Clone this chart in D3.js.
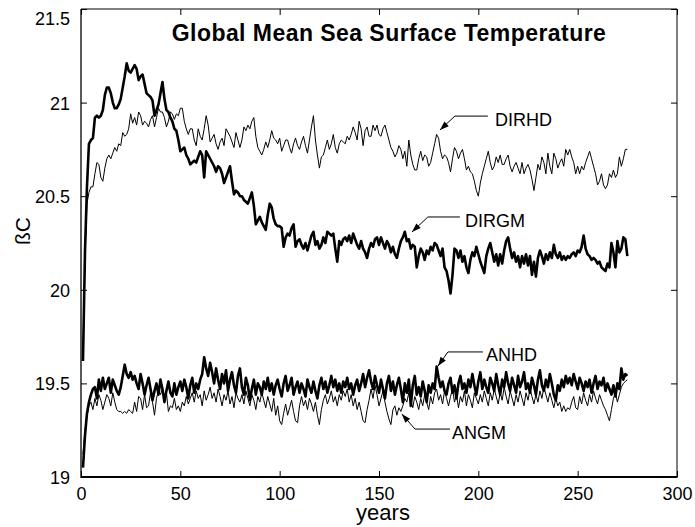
<!DOCTYPE html>
<html>
<head>
<meta charset="utf-8">
<script src="https://cdn.jsdelivr.net/npm/d3@7"></script>
<style>
  body { margin: 0; background: #fff; }
  svg text { font-family: "Liberation Sans", Arial, sans-serif; fill: #000; }
</style>
</head>
<body>
<div id="chart"></div>
<script>
// yearly values, year 1 .. 275
const dirgm = [
  19.62, 20.20, 20.55, 20.78, 20.80, 20.81, 20.92, 20.93, 20.92, 20.93,
  20.96, 21.04, 21.08, 21.08, 21.05, 21.00, 20.97, 20.97, 20.99, 21.02,
  21.08, 21.14, 21.21, 21.17, 21.16, 21.18, 21.20, 21.18, 21.12, 21.14,
  21.15, 21.10, 21.05, 21.04, 21.03, 21.01, 20.93, 20.96, 20.99, 21.05,
  21.11, 21.02, 20.96, 20.95, 20.92, 20.90, 20.86, 20.85, 20.80, 20.74,
  20.75, 20.76, 20.72, 20.70, 20.67, 20.68, 20.69, 20.68, 20.71, 20.74,
  20.72, 20.60, 20.74, 20.72, 20.70, 20.68, 20.66, 20.63, 20.66, 20.65,
  20.62, 20.57, 20.60, 20.63, 20.66, 20.58, 20.51, 20.53, 20.52, 20.50,
  20.50, 20.48, 20.47, 20.46, 20.49, 20.52, 20.45, 20.35, 20.37, 20.39,
  20.36, 20.34, 20.32, 20.40, 20.46, 20.44, 20.38, 20.35, 20.34, 20.34,
  20.33, 20.23, 20.28, 20.30, 20.29, 20.33, 20.35, 20.23, 20.26, 20.27,
  20.24, 20.22, 20.25, 20.21, 20.25, 20.29, 20.31, 20.24, 20.26, 20.22,
  20.24, 20.28, 20.25, 20.31, 20.30, 20.29, 20.30, 20.22, 20.15, 20.26,
  20.24, 20.27, 20.28, 20.26, 20.29, 20.25, 20.30, 20.27, 20.24, 20.22,
  20.26, 20.22, 20.20, 20.17, 20.22, 20.25, 20.23, 20.27, 20.28, 20.24,
  20.28, 20.25, 20.22, 20.26, 20.24, 20.20, 20.23, 20.19, 20.17, 20.22,
  20.26, 20.28, 20.31, 20.26, 20.27, 20.22, 20.24, 20.23, 20.12, 20.18,
  20.22, 20.20, 20.16, 20.21, 20.19, 20.23, 20.21, 20.25, 20.24, 20.21,
  20.18, 20.22, 20.12, 20.10, 20.05, 19.98, 20.08, 20.22, 20.21, 20.17,
  20.21, 20.15, 20.18, 20.12, 20.09, 20.16, 20.20, 20.18, 20.23, 20.19,
  20.15, 20.12, 20.09, 20.18, 20.22, 20.25, 20.20, 20.15, 20.19, 20.13,
  20.19, 20.14, 20.21, 20.26, 20.28, 20.22, 20.17, 20.20, 20.15, 20.18,
  20.12, 20.18, 20.14, 20.19, 20.13, 20.18, 20.08, 20.15, 20.07, 20.17,
  20.21, 20.18, 20.14, 20.19, 20.16, 20.20, 20.17, 20.24, 20.19, 20.17,
  20.20, 20.16, 20.18, 20.16, 20.18, 20.17, 20.19, 20.20, 20.18, 20.21,
  20.20, 20.23, 20.29, 20.22, 20.19, 20.18, 20.16, 20.17, 20.16, 20.14,
  20.15, 20.12, 20.11, 20.10, 20.14, 20.12, 20.25, 20.20, 20.12, 20.26,
  20.20, 20.22, 20.28, 20.27, 20.18
];

const dirhd = [
  19.62, 20.18, 20.46, 20.52, 20.55, 20.55, 20.62, 20.68, 20.67, 20.60,
  20.58, 20.65, 20.70, 20.72, 20.70, 20.73, 20.76, 20.74, 20.78, 20.77,
  20.84, 20.82, 20.83, 20.86, 20.94, 20.89, 20.92, 20.88, 20.95, 20.93,
  20.88, 20.90, 20.89, 20.87, 20.91, 20.93, 20.87, 20.92, 20.97, 20.95,
  20.95, 20.92, 20.87, 20.90, 20.95, 20.94, 20.91, 20.94, 20.93, 20.97,
  20.97, 20.90, 20.86, 20.83, 20.86, 20.86, 20.80, 20.77, 20.86, 20.82,
  20.80, 20.86, 20.93, 20.88, 20.79, 20.81, 20.83, 20.78, 20.75, 20.79,
  20.81, 20.77, 20.86, 20.84, 20.82, 20.79, 20.76, 20.84, 20.80, 20.76,
  20.80, 20.87, 20.85, 20.88, 20.86, 20.90, 20.92, 20.82, 20.76, 20.74,
  20.72, 20.75, 20.79, 20.76, 20.80, 20.85, 20.81, 20.80, 20.78, 20.81,
  20.74, 20.77, 20.80, 20.80, 20.76, 20.73, 20.78, 20.81, 20.77, 20.75,
  20.79, 20.82, 20.77, 20.73, 20.80, 20.87, 20.93, 20.80, 20.72, 20.65,
  20.71, 20.72, 20.76, 20.80, 20.75, 20.78, 20.83, 20.76, 20.73, 20.78,
  20.80, 20.79, 20.78, 20.82, 20.80, 20.83, 20.87, 20.84, 20.80, 20.90,
  20.86, 20.77, 20.85, 20.87, 20.82, 20.82, 20.88, 20.85, 20.88, 20.83,
  20.82, 20.86, 20.88, 20.84, 20.80, 20.76, 20.74, 20.71, 20.73, 20.77,
  20.75, 20.70, 20.74, 20.66, 20.80, 20.72, 20.67, 20.64, 20.64, 20.70,
  20.74, 20.69, 20.72, 20.71, 20.66, 20.68, 20.73, 20.78, 20.83, 20.81,
  20.74, 20.70, 20.72, 20.71, 20.68, 20.63, 20.70, 20.76, 20.74, 20.70,
  20.73, 20.75, 20.70, 20.64, 20.66, 20.63, 20.62, 20.58, 20.53, 20.50,
  20.57, 20.62, 20.66, 20.70, 20.74, 20.68, 20.64, 20.66, 20.71, 20.68,
  20.72, 20.67, 20.67, 20.70, 20.72, 20.66, 20.63, 20.66, 20.68, 20.65,
  20.62, 20.68, 20.62, 20.65, 20.67, 20.64, 20.59, 20.53, 20.60, 20.67,
  20.64, 20.71, 20.68, 20.62, 20.73, 20.66, 20.62, 20.73, 20.70, 20.65,
  20.68, 20.70, 20.66, 20.75, 20.72, 20.75, 20.71, 20.68, 20.62, 20.66,
  20.62, 20.66, 20.64, 20.68, 20.71, 20.74, 20.70, 20.66, 20.62, 20.56,
  20.58, 20.62, 20.56, 20.54, 20.56, 20.62, 20.60, 20.64, 20.60, 20.62,
  20.71, 20.66, 20.70, 20.75, 20.75
];

const anhd = [
  19.05, 19.22, 19.34, 19.40, 19.44, 19.47, 19.48, 19.42, 19.52, 19.46,
  19.53, 19.47, 19.50, 19.53, 19.45, 19.52, 19.49, 19.46, 19.44, 19.48,
  19.54, 19.60, 19.55, 19.53, 19.56, 19.52, 19.54, 19.50, 19.47, 19.55,
  19.50, 19.44, 19.49, 19.53, 19.47, 19.41, 19.46, 19.50, 19.44, 19.52,
  19.47, 19.40, 19.46, 19.51, 19.45, 19.43, 19.50, 19.44, 19.48, 19.51,
  19.46, 19.52, 19.48, 19.42, 19.49, 19.53, 19.45, 19.50, 19.47, 19.52,
  19.55, 19.64, 19.58, 19.54, 19.61, 19.56, 19.50, 19.58, 19.52, 19.47,
  19.55, 19.50, 19.57, 19.46, 19.52, 19.56, 19.49, 19.45, 19.54, 19.58,
  19.48, 19.44, 19.53, 19.49, 19.41, 19.47, 19.52, 19.44, 19.50, 19.48,
  19.44, 19.51, 19.47, 19.53, 19.46, 19.50, 19.44, 19.49, 19.52, 19.47,
  19.43, 19.50, 19.54, 19.46, 19.49, 19.53, 19.44, 19.48, 19.51, 19.45,
  19.50, 19.47, 19.43, 19.52, 19.48, 19.45, 19.51, 19.46, 19.42, 19.49,
  19.53, 19.47, 19.51, 19.45, 19.49, 19.54, 19.48, 19.52, 19.46, 19.50,
  19.45, 19.51, 19.48, 19.53, 19.47, 19.50, 19.44, 19.49, 19.52, 19.46,
  19.50, 19.55, 19.48, 19.53, 19.57, 19.51, 19.47, 19.54, 19.49, 19.45,
  19.52, 19.47, 19.42, 19.50, 19.54, 19.46, 19.51, 19.44, 19.49, 19.53,
  19.47, 19.40, 19.50, 19.45, 19.52, 19.38, 19.49, 19.54, 19.44, 19.48,
  19.43, 19.51, 19.46, 19.40, 19.49, 19.45, 19.50, 19.47, 19.59, 19.53,
  19.48, 19.51, 19.46, 19.44, 19.50, 19.53, 19.45, 19.49, 19.42, 19.50,
  19.54, 19.47, 19.50, 19.45, 19.52, 19.48, 19.55, 19.49, 19.44, 19.51,
  19.56, 19.47, 19.52, 19.48, 19.45, 19.53, 19.50, 19.46, 19.55, 19.49,
  19.44, 19.52, 19.48, 19.56, 19.50, 19.46, 19.53, 19.49, 19.45, 19.54,
  19.48, 19.51, 19.56, 19.47, 19.50, 19.45, 19.53, 19.49, 19.44, 19.52,
  19.57, 19.49, 19.46, 19.52, 19.48, 19.55, 19.50, 19.44, 19.41, 19.49,
  19.46, 19.52, 19.48, 19.54, 19.50, 19.53, 19.49, 19.55, 19.51, 19.47,
  19.53, 19.50, 19.46, 19.51, 19.48, 19.52, 19.45, 19.50, 19.54, 19.47,
  19.51, 19.49, 19.53, 19.46, 19.50, 19.47, 19.44, 19.49, 19.43, 19.50,
  19.47, 19.58, 19.52, 19.55, 19.54
];

const angm = [
  19.12, 19.25, 19.32, 19.38, 19.40, 19.36, 19.42, 19.38, 19.44, 19.41,
  19.36, 19.40, 19.44, 19.42, 19.38, 19.45, 19.40, 19.36, 19.35, 19.35,
  19.34, 19.35, 19.34, 19.36, 19.35, 19.34, 19.40, 19.35, 19.43, 19.42,
  19.36, 19.44, 19.37, 19.38, 19.45, 19.40, 19.33, 19.42, 19.46, 19.44,
  19.47, 19.42, 19.45, 19.35, 19.38, 19.37, 19.42, 19.36, 19.38, 19.35,
  19.40, 19.38, 19.43, 19.39, 19.42, 19.45, 19.40, 19.46, 19.42, 19.44,
  19.38, 19.46, 19.41, 19.44, 19.48, 19.42, 19.45, 19.40, 19.47, 19.43,
  19.38, 19.44, 19.41, 19.46, 19.39, 19.43, 19.37, 19.45, 19.42, 19.40,
  19.44, 19.39, 19.46, 19.42, 19.38, 19.44, 19.41, 19.36, 19.43, 19.40,
  19.45, 19.41, 19.37, 19.43, 19.39, 19.35, 19.42, 19.33, 19.38, 19.30,
  19.28, 19.34, 19.39, 19.33, 19.37, 19.41, 19.35, 19.30, 19.29, 19.38,
  19.43, 19.38, 19.41, 19.36, 19.42, 19.39, 19.35, 19.40, 19.33, 19.28,
  19.36, 19.41, 19.44, 19.39, 19.42, 19.46, 19.40, 19.43, 19.38, 19.44,
  19.41, 19.46, 19.43, 19.47, 19.40, 19.44, 19.38, 19.42, 19.36, 19.40,
  19.35, 19.30, 19.29, 19.36, 19.41, 19.47, 19.42, 19.49, 19.44, 19.38,
  19.42, 19.46, 19.40, 19.35, 19.31, 19.28, 19.36, 19.38, 19.33, 19.37,
  19.35, 19.38, 19.42, 19.40, 19.45, 19.41, 19.37, 19.43, 19.40, 19.36,
  19.42, 19.38, 19.44, 19.40, 19.36, 19.43, 19.39, 19.45, 19.47, 19.41,
  19.44, 19.39, 19.46, 19.42, 19.38, 19.43, 19.47, 19.40, 19.44, 19.37,
  19.43, 19.40, 19.46, 19.38, 19.44, 19.41, 19.37, 19.45, 19.42, 19.39,
  19.44, 19.40, 19.46, 19.42, 19.38, 19.45, 19.41, 19.47, 19.43, 19.39,
  19.45, 19.41, 19.48, 19.43, 19.39, 19.46, 19.42, 19.38, 19.44, 19.40,
  19.46, 19.42, 19.38, 19.45, 19.41, 19.47, 19.43, 19.39, 19.44, 19.40,
  19.46, 19.42, 19.48, 19.44, 19.40, 19.45, 19.41, 19.37, 19.42, 19.38,
  19.40, 19.35, 19.38, 19.35, 19.37, 19.36, 19.40, 19.43, 19.37, 19.36,
  19.43, 19.39, 19.45, 19.41, 19.38, 19.44, 19.40, 19.46, 19.42, 19.39,
  19.44, 19.41, 19.38, 19.36, 19.33, 19.30, 19.36, 19.42, 19.45, 19.40,
  19.44, 19.48, 19.50, 19.51, 19.52
];

const xTicks = [0, 50, 100, 150, 200, 250, 300];
const yTicks = [19, 19.5, 20, 20.5, 21, 21.5];

// arrow labels: tip, elbow and line end in data units
const labels = [
  { text: "DIRHD", tip: [180.7, 20.854], elbow: [188.2, 20.928], end: 204.8, at: [208.4, 20.907] },
  { text: "DIRGM", tip: [166.6, 20.309], elbow: [174.6, 20.389], end: 190.7, at: [193.3, 20.368] },
  { text: "ANHD",  tip: [179.7, 19.593], elbow: [184.7, 19.668], end: 202.3, at: [203.8, 19.652] },
  { text: "ANGM",  tip: [161.5, 19.337], elbow: [168.1, 19.256], end: 185.7, at: [186.7, 19.235] }
];

const width = 695, height = 527;
const margin = { top: 9, right: 18, bottom: 50, left: 81 };

const svg = d3.select("#chart").append("svg")
  .attr("width", width)
  .attr("height", height);

const x = d3.scaleLinear().domain([0, 300]).range([margin.left, width - margin.right]);
const y = d3.scaleLinear().domain([19, 21.5]).range([height - margin.bottom, margin.top]);

// series
const line = d3.line()
  .x((d, i) => x(i + 1))
  .y(d => y(d));

const series = [
  { values: dirgm, w: 2.6 },
  { values: anhd, w: 2.6 },
  { values: dirhd, w: 1 },
  { values: angm, w: 1 }
];

svg.selectAll("path.series")
  .data(series)
  .join("path")
  .attr("class", "series")
  .attr("d", d => line(d.values))
  .attr("fill", "none")
  .attr("stroke", "#000")
  .attr("stroke-width", d => d.w)
  .attr("stroke-linejoin", "round");

// axes, ticks pointing inwards on all four sides
const x0 = x.range()[0], x1 = x.range()[1];
const y0 = y.range()[0], y1 = y.range()[1];

const gx = svg.append("g")
  .attr("transform", `translate(0,${y0})`)
  .call(d3.axisBottom(x).tickValues(xTicks).tickSizeInner(-6).tickSizeOuter(0).tickPadding(10));
svg.append("g")
  .attr("transform", `translate(0,${y1})`)
  .call(d3.axisTop(x).tickValues(xTicks).tickSizeInner(-6).tickSizeOuter(0).tickFormat(""));
const gy = svg.append("g")
  .attr("transform", `translate(${x0},0)`)
  .call(d3.axisLeft(y).tickValues(yTicks).tickSizeInner(-6).tickSizeOuter(0).tickPadding(11).tickFormat(d3.format("")));
svg.append("g")
  .attr("transform", `translate(${x1},0)`)
  .call(d3.axisRight(y).tickValues(yTicks).tickSizeInner(-6).tickSizeOuter(0).tickFormat(""));

svg.selectAll(".domain").remove();
svg.selectAll(".tick line").attr("stroke", "#000").attr("stroke-width", 1);
svg.selectAll(".tick text").style("font-size", "18px").attr("fill", "#000");
gx.selectAll(".tick text").attr("dy", "0.71em");
// top label pushed down like the original
gy.selectAll(".tick text").attr("dy", d => d === 21.5 ? "0.85em" : "0.36em");

// box
svg.append("line").attr("x1", x0).attr("x2", x1).attr("y1", y0).attr("y2", y0).attr("stroke", "#000").attr("stroke-width", 2);
svg.append("line").attr("x1", x0).attr("x2", x0).attr("y1", y0 + 1).attr("y2", y1).attr("stroke", "#000").attr("stroke-width", 1.3);
svg.append("line").attr("x1", x0).attr("x2", x1).attr("y1", y1).attr("y2", y1).attr("stroke", "#000").attr("stroke-width", 1);
svg.append("line").attr("x1", x1).attr("x2", x1).attr("y1", y0 + 1).attr("y2", y1).attr("stroke", "#000").attr("stroke-width", 1);

// title and axis labels
svg.append("text")
  .attr("x", 389)
  .attr("y", 41)
  .attr("text-anchor", "middle")
  .style("font-size", "23px")
  .style("letter-spacing", "0.45px")
  .style("font-weight", "bold")
  .text("Global Mean Sea Surface Temperature");

svg.append("text")
  .attr("x", (x0 + x1) / 2 + 4)
  .attr("y", 520)
  .attr("text-anchor", "middle")
  .style("font-size", "22px")
  .text("years");

svg.append("text")
  .attr("transform", "translate(30,231) rotate(-90)")
  .attr("text-anchor", "middle")
  .style("font-size", "21px")
  .text("ßC");

// arrows
const arrows = svg.append("g");
labels.forEach(l => {
  const tx = x(l.tip[0]), ty = y(l.tip[1]);
  const ex = x(l.elbow[0]), ey = y(l.elbow[1]);
  arrows.append("polyline")
    .attr("points", `${x(l.end)},${ey} ${ex},${ey} ${tx},${ty}`)
    .attr("fill", "none")
    .attr("stroke", "#000")
    .attr("stroke-width", 1);
  const ang = Math.atan2(ty - ey, tx - ex);
  const len = 9, half = 3.2;
  const bx = tx - len * Math.cos(ang), by = ty - len * Math.sin(ang);
  const px = -Math.sin(ang) * half, py = Math.cos(ang) * half;
  arrows.append("path")
    .attr("d", `M${tx},${ty}L${bx + px},${by + py}L${bx - px},${by - py}Z`)
    .attr("fill", "#000");
  arrows.append("text")
    .attr("x", x(l.at[0]))
    .attr("y", y(l.at[1]))
    .attr("dy", "0.36em")
    .style("font-size", "18px")
    .text(l.text);
});
</script>
</body>
</html>
